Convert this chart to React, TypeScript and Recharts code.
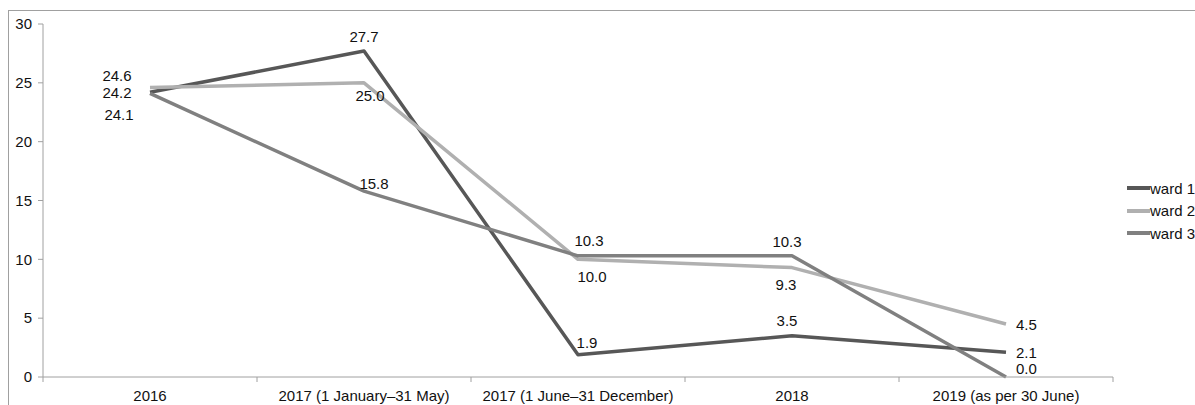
import { LineChart, Line, XAxis, YAxis, Legend, LabelList } from "recharts";

const categories = [
    "2016",
    "2017 (1 January–31 May)",
    "2017 (1 June–31 December)",
    "2018",
    "2019 (as per 30 June)",
];
const ward1 = [24.2, 27.7, 1.9, 3.5, 2.1];
const ward2 = [24.6, 25.0, 10.0, 9.3, 4.5];
const ward3 = [24.1, 15.8, 10.3, 10.3, 0.0];
const yTicks = [0, 5, 10, 15, 20, 25, 30];

// where each value label sits relative to its point: [dx, dy]
const ward1Labels = [[-33, 0], [0, -15], [9, -12], [-5, -15], [10, 0]];
const ward2Labels = [[-33, -12], [6, 13], [14, 17], [-6, 17], [10, 0]];
const ward3Labels = [[-31, 21], [10, -8], [11, -15], [-5, -14], [10, -9]];

const data = categories.map((name, i) => ({
    name,
    ward1: ward1[i],
    ward2: ward2[i],
    ward3: ward3[i],
}));

const FONT = "'Liberation Sans', Arial, sans-serif";
const FONT_SIZE = 15;
const AXIS = "#a0a0a0";
const HALF_BAND = 107;

// no scrollbars: the chart fills the whole window
if (typeof document !== "undefined") {
    document.documentElement.style.overflow = "hidden";
    document.body.style.overflow = "hidden";
}

const makeLabel = (offsets: number[][]) => (props: any) => {
    const { x, y, value, index } = props;
    const [dx, dy] = offsets[index] || [0, 0];
    const last = index === categories.length - 1;
    return (
        <text
            x={x + dx}
            y={y + dy}
            textAnchor={last ? "start" : "middle"}
            dominantBaseline="central"
            fontSize={FONT_SIZE}
            fontFamily={FONT}
            fill="#111"
        >
            {Number(value).toFixed(1)}
        </text>
    );
};

// category ticks sit between the bands, like Excel
const XTick = (props: any) => {
    const { x, y, payload, index } = props;
    const last = index === categories.length - 1;
    return (
        <g>
            <line x1={x - HALF_BAND} y1={y} x2={x - HALF_BAND} y2={y + 5} stroke={AXIS} />
            {last && <line x1={x + HALF_BAND} y1={y} x2={x + HALF_BAND} y2={y + 5} stroke={AXIS} />}
            <text
                x={x}
                y={y + 18}
                textAnchor="middle"
                dominantBaseline="central"
                fontSize={FONT_SIZE}
                fontFamily={FONT}
                fill="#111"
            >
                {payload.value}
            </text>
        </g>
    );
};

const LegendBox = (props: any) => {
    const { payload } = props;
    return (
        <div style={{ fontFamily: FONT, fontSize: FONT_SIZE, color: "#111" }}>
            {(payload || []).map((p: any) => (
                <div key={p.value} style={{ display: "flex", alignItems: "center", height: 22.5 }}>
                    <svg width={23} height={6} style={{ display: "block", flexShrink: 0 }}>
                        <line x1={0} y1={3} x2={23} y2={3} stroke={p.color} strokeWidth={4} />
                    </svg>
                    <span style={{ lineHeight: "17px", whiteSpace: "nowrap" }}>{p.value}</span>
                </div>
            ))}
        </div>
    );
};

export default function App() {
    return (
        <div
            style={{
                position: "absolute",
                left: 8,
                top: 10,
                width: 1187,
                height: 395,
                overflow: "hidden",
                borderTop: "1px solid #a0a0a0",
                borderLeft: "1px solid #a0a0a0",
            }}
        >
            <LineChart
                width={1186}
                height={394}
                data={data}
                margin={{ top: 13, right: 82, left: 0, bottom: 0 }}
            >
                <XAxis
                    dataKey="name"
                    stroke={AXIS}
                    tickLine={false}
                    tickSize={0}
                    tickMargin={0}
                    height={28}
                    interval={0}
                    padding={{ left: HALF_BAND, right: HALF_BAND }}
                    tick={<XTick />}
                />
                <YAxis
                    domain={[0, 30]}
                    ticks={yTicks}
                    width={34}
                    stroke={AXIS}
                    tickSize={5}
                    tickMargin={6}
                    tick={{ fill: "#111", fontSize: FONT_SIZE, fontFamily: FONT }}
                />
                <Legend
                    layout="vertical"
                    align="center"
                    verticalAlign="middle"
                    wrapperStyle={{ left: 1118, top: 166, width: 75 }}
                    content={<LegendBox />}
                />
                <Line
                    name="ward 1"
                    dataKey="ward1"
                    stroke="#575757"
                    strokeWidth={3.5}
                    strokeLinejoin="round"
                    dot={false}
                    isAnimationActive={false}
                >
                    <LabelList dataKey="ward1" content={makeLabel(ward1Labels)} />
                </Line>
                <Line
                    name="ward 2"
                    dataKey="ward2"
                    stroke="#b0b0b0"
                    strokeWidth={3.5}
                    strokeLinejoin="round"
                    dot={false}
                    isAnimationActive={false}
                >
                    <LabelList dataKey="ward2" content={makeLabel(ward2Labels)} />
                </Line>
                <Line
                    name="ward 3"
                    dataKey="ward3"
                    stroke="#808080"
                    strokeWidth={3.5}
                    strokeLinejoin="round"
                    dot={false}
                    isAnimationActive={false}
                >
                    <LabelList dataKey="ward3" content={makeLabel(ward3Labels)} />
                </Line>
            </LineChart>
        </div>
    );
}
